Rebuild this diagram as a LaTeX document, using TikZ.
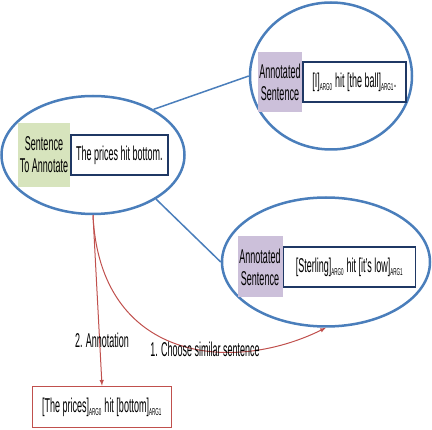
\documentclass[tikz,border=0pt]{standalone}
\usepackage{fontspec}
\setmainfont{Liberation Sans}[FakeStretch=0.45]
\usetikzlibrary{shapes, arrows, positioning}

\definecolor{ovalblue}{RGB}{74,126,187}
\definecolor{boxnavy}{RGB}{31,56,100}
\definecolor{tagred}{RGB}{192,80,77}
\definecolor{labgreen}{RGB}{215,228,189}
\definecolor{labpurple}{RGB}{204,192,218}

\newcommand{\argtag}[1]{\textsubscript{\fontsize{10}{10}\selectfont #1}}

\begin{document}
\begin{tikzpicture}[
        x=1pt, y=-1pt,
        every node/.style={font=\fontsize{20}{22}\selectfont, align=center, inner sep=1pt},
        oval/.style={draw=ovalblue, line width=2.5pt, ellipse, inner sep=0pt},
        lab/.style={inner sep=0pt, minimum width=45pt, minimum height=61pt},
        sentbox/.style={draw=boxnavy, line width=1.5pt, fill=white, inner sep=0pt, minimum height=40pt},
        redline/.style={draw=tagred, line width=1pt, -latex}
    ]
        \useasboundingbox (0,0) rectangle (432,430);

        % the three ovals
        \node[oval, minimum width=183pt, minimum height=118pt] (sent) at (93,155) {};
        \node[oval, minimum width=162pt, minimum height=147pt] (annA) at (331,76) {};
        \node[oval, minimum width=208pt, minimum height=129pt] (annB) at (326,262) {};

        \node[lab, fill=labgreen, minimum width=52pt, minimum height=64pt] (labS) at (44,155) {Sentence\\To Annotate};
        \node[sentbox, minimum width=97pt, right=0pt of labS] (boxS) {The prices hit bottom.};

        \node[lab, fill=labpurple, minimum width=44pt, minimum height=60pt] (labA) at (280,82) {Annotated\\Sentence};
        \node[sentbox, minimum width=103pt, right=0pt of labA] (boxA) {[I]\argtag{ARG0} hit [the ball]\argtag{ARG1}.};

        \node[lab, fill=labpurple] (labB) at (260,267) {Annotated\\Sentence};
        \node[sentbox, minimum width=132pt, right=0pt of labB] (boxB) {[Sterling]\argtag{ARG0} hit [it's low]\argtag{ARG1}};

        \node[draw=tagred, line width=1.5pt, minimum width=139pt, minimum height=41pt] (result) at (102,407)
            {[The prices]\argtag{ARG0} hit [bottom]\argtag{ARG1}};

        \draw[ovalblue, line width=1.5pt] (sent.37) -- (annA.west);
        \draw[ovalblue, line width=1.5pt] (sent.-35) -- (annB.west);

        \draw[redline] (sent.south) -- (result.north);
        \draw[redline] (sent.south) .. controls (100,360) and (230,375) .. (annB.south);

        \node (stepA) at (102,340) {2. Annotation};
        \node (stepB) at (205,349) {1. Choose similar sentence};
    \end{tikzpicture}
\end{document}
